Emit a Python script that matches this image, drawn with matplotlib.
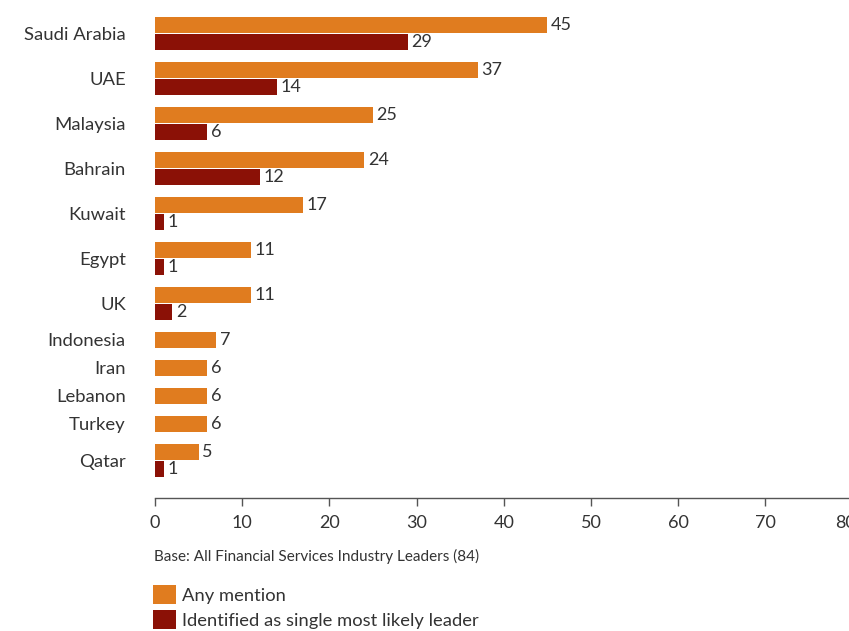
import matplotlib
matplotlib.use("Agg")
import matplotlib.pyplot as plt
from matplotlib.patches import Patch

countries = ["Saudi Arabia", "UAE", "Malaysia", "Bahrain", "Kuwait", "Egypt",
             "UK", "Indonesia", "Iran", "Lebanon", "Turkey", "Qatar"]
any_mention = [45, 37, 25, 24, 17, 11, 11, 7, 6, 6, 6, 5]
single_leader = [29, 14, 6, 12, 1, 1, 2, 0, 0, 0, 0, 1]
ticks = [0, 10, 20, 30, 40, 50, 60, 70, 80]

ORANGE = "#E07C1F"
DARK_RED = "#8B1106"
TEXT = "#333333"

plt.rcParams["font.family"] = ["Lato", "DejaVu Sans"]

W, H = 849, 631
fig = plt.figure(figsize=(W / 100, H / 100), dpi=100)

# axes measured in pixels: x origin at 155px, axis line at 498px from top
px_per_unit = 8.72
left, bottom_line = 155, 498
ax = fig.add_axes([left / W, (H - bottom_line) / H, (W - left) / W, bottom_line / H])
ax.set_xlim(0, (W - left) / px_per_unit)
ax.set_ylim(bottom_line, 0)

bar_h, inner_gap, group_gap = 16, 1, 12
cursor = 17
label_pos = []
for name, a, s in zip(countries, any_mention, single_leader):
    y_a = cursor + bar_h / 2
    ax.barh(y_a, a, height=bar_h, color=ORANGE, edgecolor="none")
    ax.annotate(str(a), (a, y_a), xytext=(2.5, 0), textcoords="offset points",
                va="center", ha="left", fontsize=13, color=TEXT)
    if s > 0:
        y_s = cursor + bar_h + inner_gap + bar_h / 2
        ax.barh(y_s, s, height=bar_h, color=DARK_RED, edgecolor="none")
        ax.annotate(str(s), (s, y_s), xytext=(2.5, 0), textcoords="offset points",
                    va="center", ha="left", fontsize=13, color=TEXT)
        label_pos.append(cursor + bar_h + inner_gap / 2)
        cursor += 2 * bar_h + inner_gap + group_gap
    else:
        label_pos.append(y_a)
        cursor += bar_h + group_gap

ax.set_yticks(label_pos, countries)
ax.tick_params(axis="y", length=0, pad=21, labelsize=13.3, labelcolor=TEXT)

ax.set_xticks([t for t in ticks if t < ax.get_xlim()[1]])
ax.tick_params(axis="x", length=6, width=1, color="#555555", pad=6,
               labelsize=13, labelcolor=TEXT, direction="out")
# last tick label sits past the right edge and gets cut off
ax.annotate(str(ticks[-1]), (ticks[-1], bottom_line + 25), xytext=(-5, 0),
            textcoords="offset points", ha="center", va="center",
            fontsize=13, color=TEXT, annotation_clip=False)

for side in ["top", "right", "left"]:
    ax.spines[side].set_visible(False)
ax.spines["bottom"].set_color("#555555")
ax.spines["bottom"].set_linewidth(1)

fig.text(154 / W, 1 - 556 / H, "Base: All Financial Services Industry Leaders (84)",
         ha="left", va="center", fontsize=11, color=TEXT)

handles = [Patch(facecolor=ORANGE, edgecolor="none"),
           Patch(facecolor=DARK_RED, edgecolor="none")]
fig.legend(handles, ["Any mention", "Identified as single most likely leader"],
           loc="upper left", bbox_to_anchor=(153 / W, 1 - 585 / H), frameon=False,
           fontsize=13.2, handlelength=1.25, handleheight=1.25, handletextpad=0.35,
           labelspacing=0.3, borderpad=0, borderaxespad=0, labelcolor=TEXT)

fig.savefig("out.png", dpi=100)
